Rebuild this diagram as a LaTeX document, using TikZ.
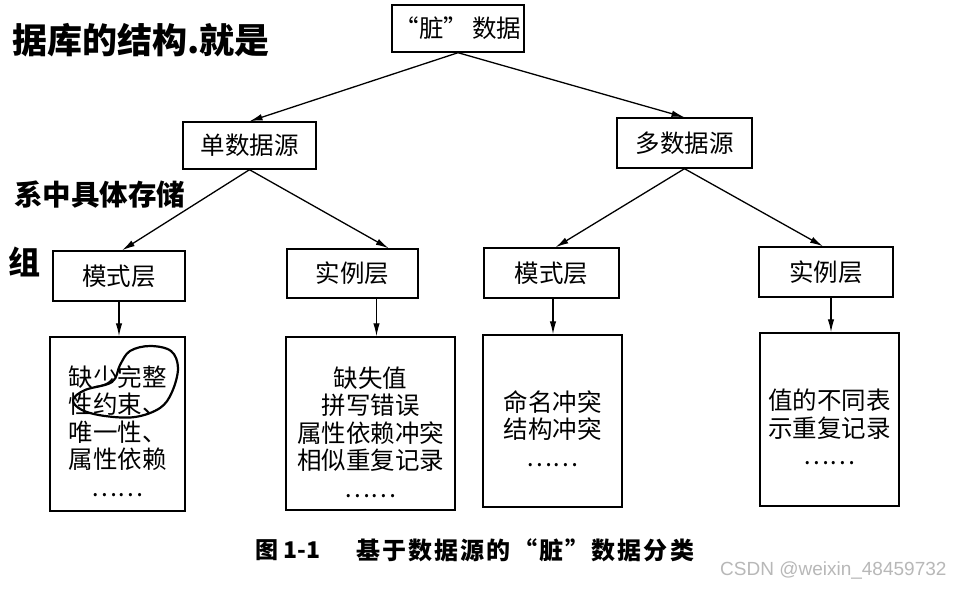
\documentclass[tikz,border=0pt]{standalone}
\usepackage{fontspec}
\setmainfont{Noto Sans CJK SC}
\newfontfamily\wmfont{Liberation Sans}
\usetikzlibrary{arrows.meta,calc}
\tikzset{
  box/.style={draw, line width=1.4pt, inner sep=0pt, font=\fontsize{24.5}{27.5}\selectfont},
  arr/.style={line width=1.3pt, -{Latex[length=13pt,width=6.5pt]}},
  body/.style={align=center, inner sep=0pt, font=\fontsize{24.5}{27.5}\selectfont},
  hand/.style={anchor=west, inner sep=0pt},
  loopmark/.style={line width=2.2pt, line join=round, line cap=round}
}
\begin{document}
\begin{tikzpicture}[x=1pt,y=-1pt]
\useasboundingbox (0,0) rectangle (960,590);
\fill[white] (0,0) rectangle (960,590);

% level 1
\node[box, minimum width=132pt, minimum height=47pt] (top) at (458,28.5) {“脏”\,数据};
% level 2
\node[box, minimum width=133pt, minimum height=47pt] (s1) at (249.5,145.5) {单数据源};
\node[box, minimum width=135pt, minimum height=50pt] (s2) at (684.5,143) {多数据源};
% level 3
\node[box, minimum width=132pt, minimum height=50pt] (m1) at (119,276) {模式层};
\node[box, minimum width=131pt, minimum height=49pt] (i1) at (352.5,273.5) {实例层};
\node[box, minimum width=135pt, minimum height=50pt] (m2) at (551.5,273) {模式层};
\node[box, minimum width=134pt, minimum height=50pt] (i2) at (826,272) {实例层};
% level 4
\node[box, minimum width=135pt, minimum height=174pt] (d1) at (117.5,424) {};
\node[box, minimum width=169pt, minimum height=173pt] (d2) at (370.5,423.5) {};
\node[box, minimum width=139pt, minimum height=172pt] (d3) at (552.5,421) {};
\node[box, minimum width=139pt, minimum height=173pt] (d4) at (829.5,419.5) {};
\node[body] (t1) at ($(d1.center)+(0,7)$) {缺少完整\\性约束、\\唯一性、\\属性依赖\\……};
\node[body] (t2) at ($(d2.center)+(0,8.5)$) {缺失值\\拼写错误\\属性依赖冲突\\相似重复记录\\……};
\node[body] (t3) at ($(d3.center)+(0,7.5)$) {命名冲突\\结构冲突\\……};
\node[body] (t4) at ($(d4.center)+(0,7.5)$) {值的不同表\\示重复记录\\……};

% connectors
\draw[arr] (top.south) -- (s1.north);
\draw[arr] (top.south) -- (s2.north);
\draw[arr] (s1.south) -- ([xshift=3pt]m1.north);
\draw[arr] (s1.south) -- ([xshift=-30pt]i1.north east);
\draw[arr] (s2.south) -- ([xshift=4pt]m2.north);
\draw[arr] (s2.south) -- ([xshift=-3pt]i2.north);
\draw[arr] (m1.south) -- (m1.south |- d1.north);
\draw[arr] ([xshift=24pt]i1.south) -- ([xshift=24pt]i1.south |- d2.north);
\draw[arr] ([xshift=1.5pt]m2.south) -- ([xshift=1.5pt]m2.south |- d3.north);
\draw[arr] ([xshift=5pt]i2.south) -- ([xshift=5pt]i2.south |- d4.north);

% handwritten mark around text
\draw[loopmark] plot[smooth cycle, tension=0.6] coordinates {(150,346) (171,351) (178,368) (172,392) (160,408) (135,417) (105,416) (82,410) (73,400) (85,390) (112,382) (120,365) (130,351)};

% handwritten notes at the left edge
\node[hand, font=\bfseries\fontsize{35}{38}\selectfont] (h1) at (12,40) {据库的结构.就是};
\node[hand, font=\bfseries\fontsize{28.5}{31}\selectfont] (h2) at (14,195) {系中具体存储};
\node[hand, font=\bfseries\fontsize{32}{34}\selectfont] (h3) at (8,262) {组};

% caption
\node[hand, font=\bfseries\fontsize{23}{26}\selectfont] (capnum) at (255,550) {图 1-1};
\node[hand, font=\bfseries\fontsize{24}{26}\selectfont\addfontfeature{LetterSpace=9}] (captext) at (356,550) {基于数据源的“脏”数据分类};

% watermark
\node[hand, font=\wmfont\fontsize{19}{22}\selectfont, text=black!28] (wm) at (720,570) {CSDN @weixin\_48459732};
\end{tikzpicture}
\end{document}
